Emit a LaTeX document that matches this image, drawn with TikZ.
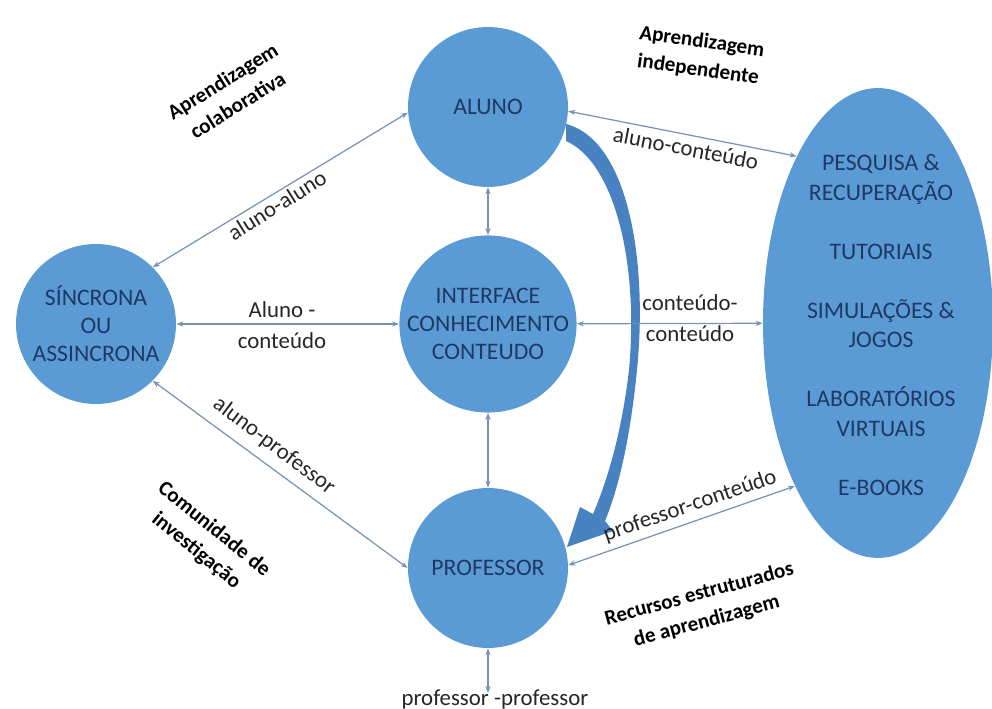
\documentclass[tikz,border=0pt]{standalone}
\usepackage{fontspec}
\setmainfont{Carlito}
\usetikzlibrary{positioning, arrows.meta, shapes.geometric}
\definecolor{blob}{RGB}{91,155,213}
\definecolor{navy}{RGB}{31,56,100}
\definecolor{wire}{RGB}{120,146,178}
\definecolor{ink}{RGB}{38,38,38}
\definecolor{bend}{RGB}{72,130,192}

\begin{document}
\begin{tikzpicture}[x=0.02cm, y=-0.02cm,
  hub/.style={circle, fill=blob, minimum size=3.2cm, inner sep=0pt, align=center, text=navy, font=\fontsize{13.5}{16}\selectfont},
  link/.style={draw=wire, line width=0.7pt, {Stealth[length=4pt,width=3pt]}-{Stealth[length=4pt,width=3pt]}},
  tag/.style={text=ink, font=\fontsize{13}{18}\selectfont, inner sep=1pt, align=center},
  theme/.style={font=\bfseries\fontsize{12}{16}\selectfont, align=center},
  bigarrow/.style={fill=bend},
]
\useasboundingbox (0,0) rectangle (992,709);

% circles and the resource ellipse
\node[hub] (aluno) at (488,107) {ALUNO};
\node[hub] (iface) at (488,324) {INTERFACE\\CONHECIMENTO\\CONTEUDO};
\node[hub] (prof) at (488,568) {PROFESSOR};
\node[hub] (sinc) at (96,324) {SÍNCRONA\\OU\\ASSINCRONA};
\node[ellipse, fill=blob, minimum width=4.6cm, minimum height=9.4cm, inner sep=0pt] (recursos) at (878,323) {};
\node[text=navy, align=center, font=\fontsize{13.5}{17}\selectfont] (lista) at (881,325)
  {PESQUISA \&\\RECUPERAÇÃO\\[0.58cm]TUTORIAIS\\[0.58cm]SIMULAÇÕES \&\\JOGOS\\[0.58cm]LABORATÓRIOS\\VIRTUAIS\\[0.58cm]E-BOOKS};

% curved arrow aluno -> professor
\fill[bigarrow] (566,124) .. controls (628,140) and (648,260) .. (637,370)
  .. controls (631,430) and (621,482) .. (605,521) -- (613,531) -- (567,547) -- (580,507) -- (593,514)
  .. controls (611,472) and (623,422) .. (629,370) .. controls (639,262) and (614,162) .. (566,141) -- cycle;

% interactions
\draw[link] (sinc.45) -- (aluno.184);
\draw[link] (sinc) -- (iface);
\draw[link] (sinc.-45) -- (prof.west);
\draw[link] (aluno) -- (iface);
\draw[link] (iface) -- (prof);
\draw[link] (aluno.-3) -- (recursos.116);
\draw[link] (iface) -- (recursos);
\draw[link] (prof.2) -- (recursos.243);
\coordinate (pbase) at (488,693);
\draw[link] (prof) -- (pbase);

% interaction labels
\node[tag, rotate=32] (aa) at (277,205) {aluno-aluno};
\node[tag] (ac) at (282,325) {Aluno -\\conteúdo};
\node[tag, rotate=-37] (ap) at (274,446) {aluno-professor};
\node[tag, rotate=-11] (acr) at (686,148) {aluno-conteúdo};
\node[tag] (cc) at (690,318) {conteúdo-\\conteúdo};
\node[tag, rotate=19] (pc) at (690,506) {professor-conteúdo};
\node[tag, anchor=base] (pp) at (495,706) {professor -professor};

% themes
\node[theme, rotate=32] (colab) at (230,93) {Aprendizagem\\colaborativa};
\node[theme, rotate=-8] (indep) at (700,56) {Aprendizagem\\independente};
\node[theme, rotate=-39] (comun) at (205,540) {Comunidade de\\investigação};
\node[theme, rotate=15] (estru) at (703,608) {Recursos estruturados\\de aprendizagem};
\end{tikzpicture}
\end{document}
